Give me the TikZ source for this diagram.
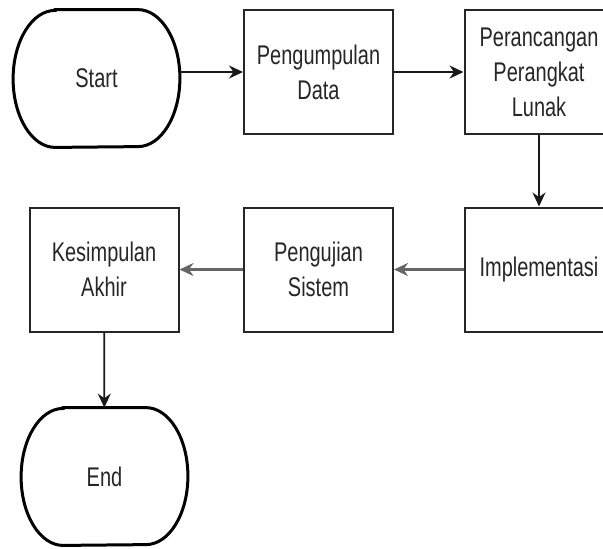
\documentclass[tikz,border=0pt]{standalone}
\usepackage{fontspec}
\setmainfont{Liberation Sans}[FakeStretch=0.74]
\usetikzlibrary{arrows.meta}

\tikzset{
  box/.style={draw=black!85, line width=1pt, minimum width=74.5pt, minimum height=62pt,
    inner sep=0pt, align=center, text=black!85, font=\fontsize{13.5}{17.5}\selectfont},
  term/.style={minimum width=83pt, minimum height=68.5pt, inner sep=0pt,
    text=black!85, font=\fontsize{13.5}{17.5}\selectfont},
  termline/.style={draw=black, line width=1.5pt},
  arr/.style={draw=black!90, line width=0.9pt, -{Stealth[length=7pt, width=6.5pt]}},
  grayarr/.style={draw=black!60, line width=1.8pt, -{Stealth[length=7pt, width=6.5pt]}}
}

\begin{document}
\begin{tikzpicture}[x=0.5pt, y=-0.5pt]
    % page frame, boxes on the right run past it
    \useasboundingbox[clip] (0,0) rectangle (603,548);

    % start / end terminals
    \node[term] (start) at (96.5,78.5) {Start};
    \draw[termline] ([xshift=21pt]start.north west) -- ([xshift=-21pt]start.north east)
        arc[start angle=90, end angle=-90, x radius=21pt, y radius=34.25pt]
        -- ([xshift=21pt]start.south west)
        arc[start angle=270, end angle=90, x radius=21pt, y radius=34.25pt] -- cycle;
    \node[term] (end) at (104.5,476.5) {End};
    \draw[termline] ([xshift=21pt]end.north west) -- ([xshift=-21pt]end.north east)
        arc[start angle=90, end angle=-90, x radius=21pt, y radius=34.25pt]
        -- ([xshift=21pt]end.south west)
        arc[start angle=270, end angle=90, x radius=21pt, y radius=34.25pt] -- cycle;

    % process steps
    \node[box] (data) at (318.5,72) {Pengumpulan\\Data};
    \node[box] (design) at (539,72) {Perancangan\\Perangkat\\Lunak};
    \node[box] (impl) at (539,269.5) {Implementasi};
    \node[box] (test) at (318.5,269.5) {Pengujian\\Sistem};
    \node[box] (concl) at (104,269.5) {Kesimpulan\\Akhir};

    % flow
    \draw[arr] (start.east |- data.west) -- (data.west);
    \draw[arr] (data) -- (design);
    \draw[arr] (design) -- (impl);
    \draw[grayarr] (impl) -- (test);
    \draw[grayarr] (test) -- (concl);
    \draw[arr] (concl) -- (end);
\end{tikzpicture}
\end{document}
